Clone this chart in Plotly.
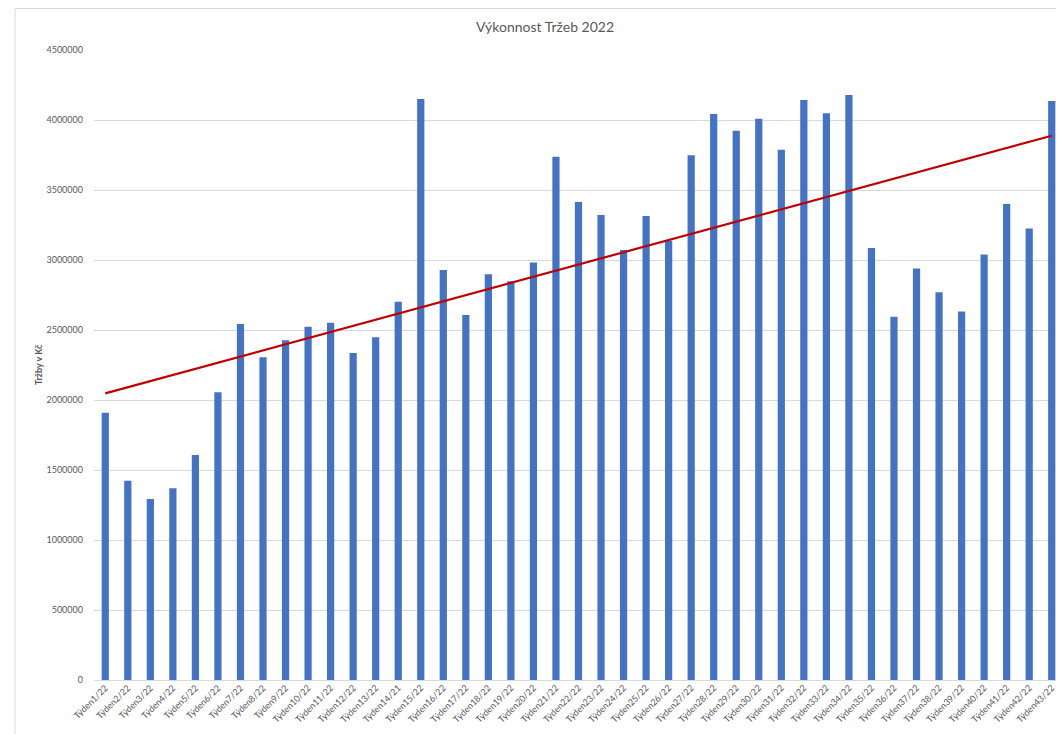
import numpy as np
import plotly.graph_objects as go

weeks = [f"Týden{i}/22" for i in range(1, 44)]
weeks[13] = "Týden14/21"

sales = [1909000, 1424000, 1293000, 1369000, 1607000, 2055000, 2543000, 2305000,
         2426000, 2524000, 2552000, 2336000, 2448000, 2702000, 4150000, 2929000,
         2607000, 2898000, 2848000, 2983000, 3738000, 3414000, 3321000, 3071000,
         3314000, 3138000, 3748000, 4043000, 3924000, 4009000, 3788000, 4143000,
         4048000, 4179000, 3085000, 2595000, 2940000, 2769000, 2633000, 3040000,
         3400000, 3225000, 4136000]

y_ticks = list(range(0, 4500001, 500000))

# linear trendline (least squares, like Excel)
idx = np.arange(1, len(sales) + 1)
slope, intercept = np.polyfit(idx, sales, 1)
trend = (slope * idx + intercept).tolist()

fig = go.Figure()
fig.add_trace(go.Bar(x=weeks, y=sales, marker_color="#4472C4",
                     marker_line_width=0, name="Tržby"))
fig.add_trace(go.Scatter(x=weeks, y=trend, mode="lines",
                         line=dict(color="#C00000", width=2.2), name="Trend"))

# page body has an 8px margin; compensate so the chart lands where the reference has it
OFF = 8
W, H = 1064 - OFF, 734 - OFF
L, R, T, B = 94 - OFF, 1, 50 - OFF, 54
pw, ph = W - L - R, H - T - B

fig.update_layout(
    width=W, height=H,
    margin=dict(l=L, r=R, t=T, b=B, autoexpand=False),
    plot_bgcolor="white", paper_bgcolor="white",
    showlegend=False,
    bargap=0.68,
    font=dict(family="Lato, Open Sans, sans-serif", color="#595959"),
    title=dict(text="Výkonnost Tržeb 2022", x=(545 - OFF) / W, xanchor="center",
               y=1 - (27 - OFF) / H, yanchor="middle", yref="container",
               font=dict(size=14, color="#595959")),
    xaxis=dict(type="category", tickangle=-45, tickfont=dict(size=9, color="#595959"),
               showgrid=False, showline=False, ticks="", automargin=False,
               range=[-0.5, len(weeks) - 0.5]),
    yaxis=dict(range=[0, 4500000], tickvals=y_ticks, tickformat="d",
               tickfont=dict(size=9, color="#595959"),
               gridcolor="#d9d9d9", gridwidth=1, zeroline=True,
               zerolinecolor="#d9d9d9", zerolinewidth=1, showline=False,
               ticks="", ticklabelstandoff=10, automargin=False),
    annotations=[dict(text="<b>Tržby v Kč</b>", textangle=-90, showarrow=False,
                      xref="paper", yref="paper", x=(38 - 94) / pw, y=(680 - 365) / ph,
                      xanchor="center", yanchor="middle",
                      font=dict(size=9, color="#595959"))],
    shapes=[dict(type="rect", xref="paper", yref="paper",
                 x0=(15 - 94) / pw, x1=(1064 + 10 - 94) / pw,
                 y0=-(734 + 10 - 680) / ph, y1=1 + (T - 0.5) / ph,
                 line=dict(color="#d9d9d9", width=1), layer="below")],
)

fig.write_html("out.html")
